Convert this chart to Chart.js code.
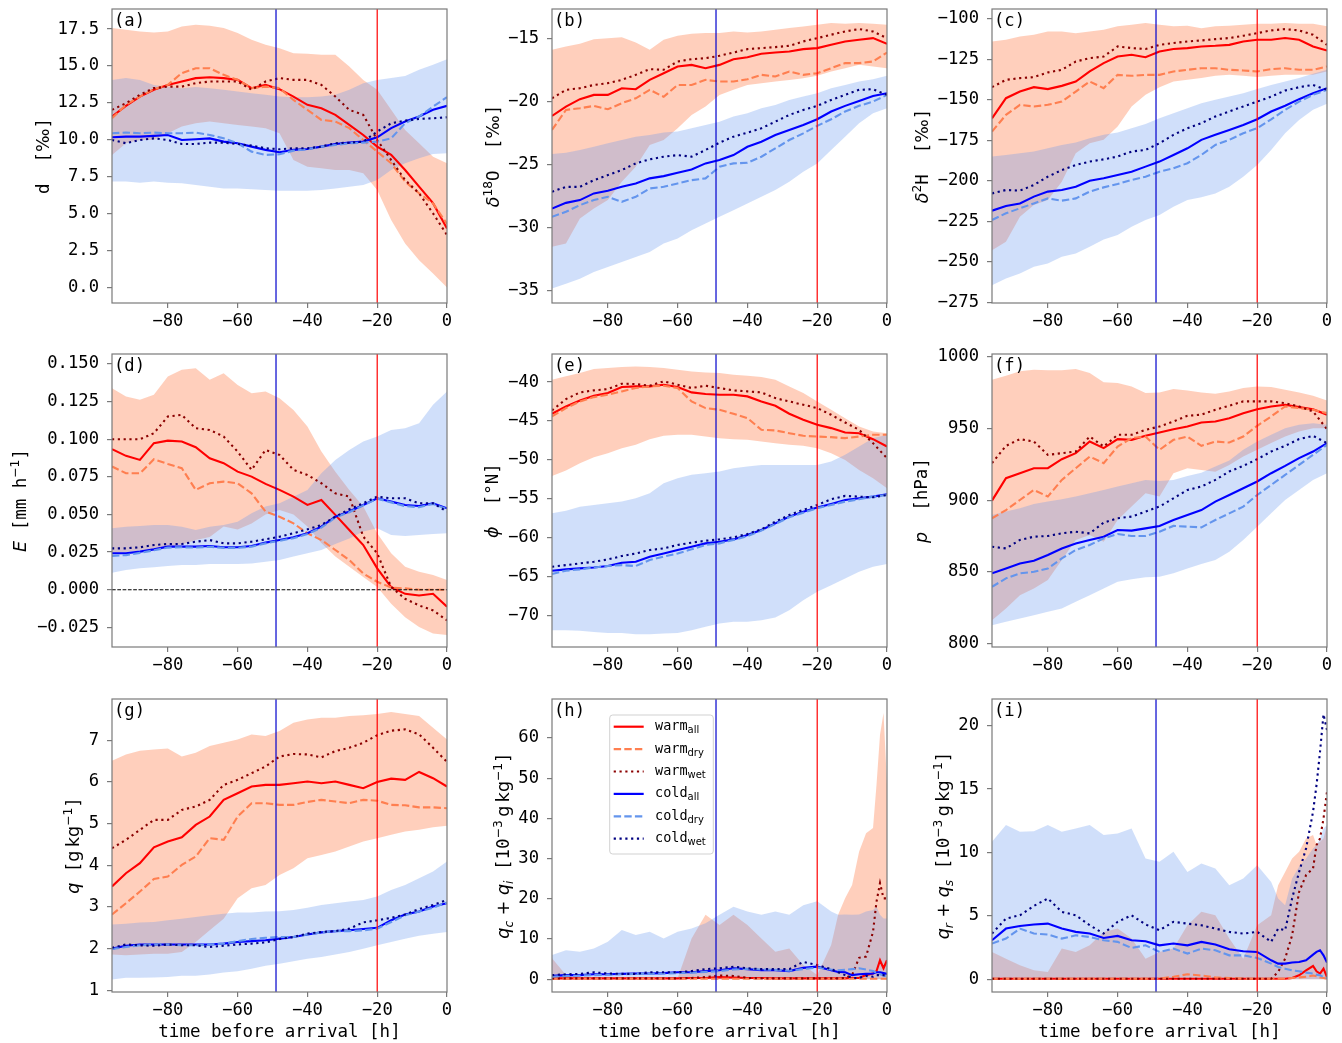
<!DOCTYPE html>
<html><head><meta charset="utf-8">
<script src="https://cdn.jsdelivr.net/npm/chart.js@4.4.1/dist/chart.umd.min.js"></script>
<style>
html,body{margin:0;padding:0;background:#fff}
body{width:1342px;height:1043px;overflow:hidden;position:relative}
.pn{position:absolute}
</style>
</head><body>
<script>
// ---------------- time axes ----------------
const TIME = [-96,-92,-88,-84,-80,-76,-72,-68,-64,-60,-56,-52,-48,-44,-40,-36,-32,-28,-24,-20,-16,-12,-8,-4,0];
const TIME_HI = [-96,-92,-88,-84,-80,-76,-72,-68,-64,-60,-56,-52,-48,-44,-40,-36,-32,-28,-24,-20,-16,-14,-12,-10,-8,-6,-4,-3,-2,-1,0];
const T_COLD_EVENT = -49;
const T_WARM_EVENT = -20;
const X_TICKS = ['−80','−60','−40','−20','0'];

// ---------------- (a) d-excess ----------------
const A_YTICKS = ['0.0','2.5','5.0','7.5','10.0','12.5','15.0','17.5'];
const a_warm_all = [11.58,12.3,12.93,13.39,13.72,13.95,14.18,14.24,14.18,14.06,13.5,13.72,13.43,12.93,12.37,12.14,11.69,11.01,10.33,9.54,8.98,7.96,6.83,5.71,4.0];
const a_warm_dry = [11.46,12.37,12.93,13.43,13.72,14.52,14.85,14.85,14.4,14.06,13.5,13.6,13.5,12.7,12.03,11.35,11.24,10.79,9.99,9.2,8.41,7.17,6.38,5.7,4.3];
const a_warm_wet = [12.03,12.48,13.05,13.5,13.6,13.6,13.84,13.95,13.95,13.95,13.39,13.95,14.18,14.06,14.06,13.72,12.93,12.03,11.69,9.99,8.63,7.28,6.38,5.02,3.55];
const a_cold_all = [10.17,10.22,10.22,10.27,10.33,9.99,10.04,10.1,9.88,9.77,9.54,9.32,9.16,9.32,9.38,9.54,9.72,9.81,9.88,10.17,10.79,11.24,11.58,12.03,12.3];
const a_cold_dry = [10.45,10.49,10.45,10.49,10.45,10.45,10.49,10.33,10.1,9.77,9.2,8.98,9.02,9.27,9.36,9.54,9.65,9.77,9.81,9.88,10.1,11.12,11.58,12.25,12.89];
const a_cold_wet = [9.99,9.77,9.99,10.1,9.99,9.72,9.72,9.81,9.81,9.72,9.61,9.43,9.36,9.43,9.43,9.54,9.77,9.81,9.88,10.56,11.12,11.3,11.42,11.46,11.53];
const a_warm_hi = [17.57,17.45,17.34,17.27,17.34,17.68,17.79,17.73,17.57,17.23,16.78,16.44,16.21,15.87,15.83,15.76,15.76,14.97,14.06,13.39,12.03,10.67,9.77,8.86,8.41];
const a_warm_lo = [8.98,9.77,9.99,9.99,10.45,10.9,11.12,11.24,11.12,11.01,10.9,10.79,10.45,8.63,8.18,8.07,7.96,7.96,7.73,6.6,4.57,2.98,1.85,0.95,0.0];
const a_cold_hi = [14.06,14.18,14.06,13.72,13.6,13.5,13.57,13.5,13.39,13.27,13.16,13.05,12.93,12.89,12.89,12.93,13.05,13.39,13.84,14.06,14.18,14.33,14.74,15.08,15.46];
const a_cold_lo = [7.17,7.17,7.1,7.17,7.1,7.06,6.94,6.83,6.71,6.71,6.65,6.6,6.56,6.56,6.56,6.6,6.71,6.83,6.94,7.28,7.96,8.41,8.75,9.04,9.09];

// ---------------- (b) delta 18O ----------------
const B_YTICKS = ['−35','−30','−25','−20','−15'];
const b_warm_all = [-21.12,-20.38,-19.79,-19.45,-19.45,-18.92,-19.0,-18.26,-17.73,-17.2,-17.07,-17.33,-17.07,-16.62,-16.46,-16.19,-16.09,-16.01,-15.82,-15.74,-15.48,-15.21,-15.08,-14.95,-15.4];
const b_warm_dry = [-22.23,-20.64,-20.51,-20.32,-20.59,-20.11,-19.72,-19.05,-19.6,-18.66,-18.66,-18.26,-18.39,-18.39,-18.21,-17.86,-17.99,-17.6,-17.86,-17.73,-17.33,-16.93,-16.93,-16.8,-16.09];
const b_warm_wet = [-19.72,-19.05,-18.92,-18.66,-18.52,-18.26,-17.86,-17.41,-17.46,-16.8,-16.62,-16.54,-16.35,-16.09,-15.82,-15.74,-15.66,-15.56,-15.21,-14.95,-14.68,-14.42,-14.23,-14.42,-14.95];
const b_cold_all = [-28.46,-28.01,-27.79,-27.26,-27.05,-26.74,-26.47,-26.07,-25.89,-25.62,-25.36,-24.88,-24.62,-24.22,-23.56,-23.16,-22.63,-22.23,-21.83,-21.38,-20.77,-20.32,-19.93,-19.53,-19.32];
const b_cold_dry = [-29.12,-28.72,-28.19,-27.79,-27.53,-27.93,-27.53,-26.87,-26.74,-26.47,-26.21,-26.07,-25.15,-24.88,-24.83,-24.35,-23.69,-23.03,-22.5,-21.91,-21.38,-20.77,-20.32,-19.98,-19.45];
const b_cold_wet = [-27.13,-26.74,-26.74,-26.21,-25.81,-25.41,-24.88,-24.56,-24.35,-24.22,-24.35,-23.82,-23.24,-22.76,-22.44,-22.1,-21.57,-21.04,-20.64,-20.32,-19.85,-19.45,-19.05,-19.0,-19.45];
const b_warm_hi = [-15.87,-15.61,-15.4,-15.03,-14.95,-14.87,-15.29,-15.87,-15.08,-14.76,-14.6,-14.55,-14.55,-14.42,-14.5,-14.42,-14.28,-14.15,-14.02,-13.89,-13.75,-13.81,-13.75,-13.81,-13.89];
const b_warm_lo = [-31.5,-31.24,-29.25,-28.46,-27.79,-26.34,-25.15,-23.42,-23.03,-22.1,-21.04,-20.38,-19.45,-19.05,-18.66,-18.52,-18.39,-18.26,-18.13,-17.94,-17.6,-17.33,-17.07,-17.2,-17.33];
const b_cold_hi = [-24.14,-24.03,-23.82,-23.56,-23.29,-23.03,-22.76,-22.63,-22.44,-22.36,-22.1,-21.83,-21.57,-21.17,-20.91,-20.51,-20.25,-19.85,-19.58,-19.32,-18.92,-18.66,-18.39,-18.21,-17.94];
const b_cold_lo = [-34.81,-34.42,-34.02,-33.49,-33.09,-32.7,-32.3,-31.9,-31.24,-30.84,-30.18,-29.65,-29.12,-28.59,-28.06,-27.53,-27.0,-26.34,-25.54,-24.88,-23.82,-22.76,-21.7,-20.91,-20.51];

// ---------------- (c) delta 2H ----------------
const C_YTICKS = ['−275','−250','−225','−200','−175','−150','−125','−100'];
const c_warm_all = [-161.4,-149.0,-144.9,-142.2,-143.4,-141.4,-138.7,-132.5,-127.4,-123.3,-122.2,-123.7,-120.2,-118.7,-118.1,-117.1,-116.7,-116.1,-114.0,-113.0,-113.0,-111.9,-113.0,-117.1,-119.6];
const c_warm_dry = [-169.6,-159.3,-153.1,-154.1,-153.1,-151.1,-144.9,-138.7,-142.8,-134.6,-135.2,-134.6,-134.6,-132.5,-131.5,-130.5,-130.5,-131.5,-131.9,-132.5,-131.1,-130.5,-131.5,-131.5,-129.4];
const c_warm_wet = [-142.2,-137.7,-136.6,-136.0,-133.1,-131.5,-126.4,-124.3,-123.3,-117.1,-118.1,-118.7,-116.1,-115.0,-114.0,-113.4,-112.6,-111.9,-110.5,-108.9,-107.2,-106.4,-107.2,-109.9,-116.1];
const c_cold_all = [-218.4,-215.5,-213.9,-209.7,-206.6,-205.6,-203.6,-199.9,-198.4,-196.4,-194.3,-191.2,-188.1,-184.0,-179.9,-174.7,-171.6,-168.6,-165.5,-162.0,-157.2,-153.7,-149.6,-145.9,-142.8];
const c_cold_dry = [-224.1,-220.0,-216.9,-213.9,-210.8,-212.2,-210.8,-206.6,-204.0,-201.9,-199.4,-197.4,-194.3,-192.2,-189.1,-184.0,-177.8,-174.7,-170.6,-167.5,-162.0,-156.2,-151.1,-146.9,-143.9];
const c_cold_wet = [-207.7,-205.6,-206.0,-202.5,-197.4,-193.3,-190.2,-188.1,-186.7,-185.0,-181.9,-180.9,-176.8,-171.6,-167.5,-164.4,-160.3,-157.2,-154.1,-151.1,-148.0,-144.3,-142.2,-140.8,-143.9];
const c_warm_hi = [-114.0,-113.0,-110.9,-109.9,-107.8,-107.8,-108.9,-107.8,-106.8,-104.7,-103.7,-102.7,-103.7,-104.7,-104.3,-105.8,-104.7,-104.3,-103.7,-103.1,-103.1,-102.7,-103.1,-103.1,-104.7];
const c_warm_lo = [-242.7,-237.5,-222.1,-214.9,-211.8,-200.5,-183.0,-176.8,-174.7,-166.5,-154.1,-146.9,-142.2,-138.7,-137.7,-136.6,-135.2,-134.6,-135.2,-136.0,-135.2,-134.6,-134.6,-134.6,-132.5];
const c_cold_hi = [-185.0,-184.0,-183.0,-181.9,-179.9,-177.8,-176.4,-173.7,-171.6,-170.2,-167.5,-164.9,-161.4,-158.3,-155.2,-152.1,-150.0,-148.0,-145.9,-143.4,-140.8,-138.7,-136.6,-134.0,-131.5];
const c_cold_lo = [-264.3,-260.2,-257.1,-253.0,-250.9,-246.8,-244.7,-240.6,-236.1,-233.4,-228.3,-224.1,-221.1,-215.9,-211.8,-210.1,-207.7,-203.6,-197.4,-190.2,-180.9,-170.6,-162.4,-156.2,-152.5];

// ---------------- (d) evaporation ----------------
const D_YTICKS = ['−0.025','0.000','0.025','0.050','0.075','0.100','0.125','0.150'];
const d_warm_all = [0.0933,0.0889,0.0862,0.0973,0.0990,0.0984,0.0946,0.0873,0.0840,0.0784,0.0751,0.0703,0.0663,0.0618,0.0563,0.0596,0.0497,0.0397,0.0297,0.0142,0.0018,-0.0027,-0.0038,-0.0027,-0.0113];
const d_warm_dry = [0.0818,0.0773,0.0773,0.0866,0.0835,0.0807,0.0663,0.0707,0.0718,0.0707,0.0640,0.0519,0.0485,0.0441,0.0375,0.0330,0.0264,0.0197,0.0108,0.0053,0.0015,0.0009,0.0,0.0,0.0];
const d_warm_wet = [0.0999,0.0999,0.0999,0.1039,0.1150,0.1161,0.1072,0.1061,0.1017,0.0917,0.0796,0.0928,0.0895,0.0796,0.0762,0.0707,0.0640,0.0618,0.0353,0.0242,0.0018,-0.0060,-0.0104,-0.0137,-0.0203];
const d_cold_all = [0.0242,0.0242,0.0253,0.0268,0.0286,0.0286,0.0286,0.0290,0.0282,0.0282,0.0290,0.0313,0.0330,0.0348,0.0375,0.0419,0.0485,0.0519,0.0563,0.0607,0.0585,0.0563,0.0556,0.0574,0.0541];
const d_cold_dry = [0.0225,0.0230,0.0245,0.0262,0.0280,0.0282,0.0280,0.0285,0.0278,0.0278,0.0286,0.0308,0.0325,0.0342,0.0370,0.0412,0.0480,0.0515,0.0560,0.0605,0.0580,0.0555,0.0548,0.0570,0.0535];
const d_cold_wet = [0.0275,0.0275,0.0282,0.0297,0.0304,0.0304,0.0319,0.0330,0.0308,0.0308,0.0319,0.0335,0.0352,0.0375,0.0401,0.0430,0.0485,0.0534,0.0574,0.0618,0.0607,0.0607,0.0574,0.0574,0.0519];
const d_warm_hi = [0.1338,0.1283,0.1261,0.1294,0.1416,0.1460,0.1471,0.1394,0.1438,0.1360,0.1305,0.1316,0.1272,0.1194,0.1084,0.0917,0.0784,0.0663,0.0552,0.0375,0.0242,0.0153,0.0120,0.0098,0.0064];
const d_warm_lo = [0.024,0.025,0.026,0.027,0.028,0.030,0.033,0.035,0.042,0.040,0.044,0.050,0.053,0.050,0.042,0.031,0.022,0.0153,0.0084,0.0018,-0.0093,-0.0182,-0.0248,-0.0290,-0.0301];
const d_cold_hi = [0.0408,0.0419,0.0423,0.0430,0.0430,0.0419,0.0397,0.0419,0.0430,0.0452,0.0508,0.0552,0.0574,0.0618,0.0663,0.0773,0.0862,0.0928,0.0984,0.1017,0.1061,0.1072,0.1106,0.1228,0.1316];
const d_cold_lo = [0.0113,0.0131,0.0142,0.0149,0.0158,0.0164,0.0164,0.0171,0.0171,0.0171,0.0175,0.0186,0.0197,0.0220,0.0242,0.0264,0.0304,0.0341,0.0386,0.0408,0.0363,0.0357,0.0363,0.0370,0.0375];

// ---------------- (e) latitude ----------------
const E_YTICKS = ['−70','−65','−60','−55','−50','−45','−40'];
const e_warm_all = [-44.07,-43.13,-42.36,-41.76,-41.41,-40.64,-40.56,-40.56,-40.34,-40.64,-41.33,-41.54,-41.63,-41.63,-41.84,-42.49,-43.04,-44.07,-44.84,-45.49,-45.91,-46.47,-46.56,-47.33,-48.27];
const e_warm_dry = [-44.41,-43.34,-42.49,-41.93,-41.63,-41.2,-40.77,-40.56,-40.47,-40.77,-42.49,-43.34,-43.56,-44.07,-44.63,-46.13,-46.21,-46.56,-46.9,-46.99,-47.07,-47.2,-46.99,-46.77,-46.77];
const e_warm_wet = [-43.64,-42.19,-41.33,-41.07,-40.9,-40.21,-40.26,-40.47,-39.91,-40.34,-40.77,-40.47,-40.77,-41.07,-41.2,-41.33,-42.06,-42.49,-42.91,-43.34,-44.2,-45.19,-46.13,-47.84,-49.77];
const e_cold_all = [-64.21,-64.04,-63.91,-63.79,-63.61,-63.19,-63.06,-62.41,-61.99,-61.56,-61.13,-60.7,-60.49,-60.19,-59.63,-58.99,-58.13,-57.27,-56.63,-56.11,-55.64,-55.13,-54.91,-54.7,-54.4];
const e_cold_dry = [-64.64,-64.21,-64.04,-63.79,-63.61,-63.49,-63.61,-62.84,-62.41,-61.99,-61.47,-60.91,-60.7,-60.27,-59.76,-59.07,-58.21,-57.36,-56.76,-56.2,-55.77,-55.34,-55.04,-54.7,-54.49];
const e_cold_wet = [-63.7,-63.49,-63.27,-63.06,-62.76,-62.33,-61.99,-61.56,-61.34,-60.91,-60.61,-60.36,-60.19,-59.93,-59.5,-58.9,-57.91,-57.06,-56.41,-55.77,-55.04,-54.61,-54.7,-54.79,-54.49];
const e_warm_hi = [-39.7,-39.27,-38.84,-38.33,-38.2,-38.07,-37.99,-38.07,-38.2,-38.41,-38.63,-38.76,-38.84,-39.06,-39.19,-39.36,-39.7,-40.56,-41.41,-42.49,-43.56,-44.63,-45.7,-46.34,-46.56];
const e_warm_lo = [-52.04,-51.36,-50.41,-49.64,-49.13,-48.49,-48.06,-47.33,-46.9,-46.77,-46.77,-46.99,-47.2,-47.33,-47.41,-47.63,-47.84,-48.06,-48.19,-48.49,-49.13,-49.99,-51.27,-52.34,-53.63];
const e_cold_hi = [-56.84,-56.5,-55.99,-55.77,-55.56,-55.34,-54.91,-54.27,-52.99,-52.34,-51.91,-51.7,-51.49,-51.06,-50.84,-50.63,-50.63,-50.63,-50.63,-50.63,-50.2,-49.34,-48.27,-47.2,-46.77];
const e_cold_lo = [-71.84,-71.84,-71.93,-72.06,-72.19,-72.19,-72.36,-72.36,-72.27,-72.19,-71.84,-71.41,-70.99,-70.77,-70.77,-70.56,-70.21,-69.27,-67.99,-66.91,-66.06,-65.2,-64.34,-63.7,-63.36];

// ---------------- (f) pressure ----------------
const F_YTICKS = ['800','850','900','950','1000'];
const f_warm_all = [899.8,915.4,918.9,922.4,922.4,928.7,932.9,941.0,936.4,942.7,942.2,945.0,947.3,949.6,951.5,954.3,955.0,957.3,960.8,963.6,965.5,966.7,965.0,963.6,959.7];
const f_warm_dry = [887.4,893.2,900.2,907.2,902.6,914.2,922.4,930.5,925.9,937.5,943.4,944.5,935.2,942.2,944.5,938.0,941.0,940.3,944.5,952.0,958.5,965.5,964.3,963.2,960.8];
const f_warm_wet = [925.9,938.0,942.7,941.0,931.7,932.9,934.0,944.5,937.5,945.7,945.7,949.2,951.5,955.0,959.0,959.7,963.2,966.0,969.0,969.0,969.0,967.8,965.5,962.0,949.6];
const f_cold_all = [849.0,852.4,855.9,857.8,861.8,866.4,869.9,872.3,874.6,879.3,878.8,880.4,882.1,886.2,889.7,893.2,899.1,903.7,908.4,913.1,918.9,924.0,929.4,934.0,939.9];
const f_cold_dry = [839.6,845.5,849.0,850.1,852.4,859.4,865.3,868.8,873.4,876.5,875.1,875.1,878.1,882.1,881.6,881.1,886.2,890.9,895.6,903.7,910.7,917.7,924.7,931.7,938.7];
const f_cold_wet = [867.6,866.4,872.3,874.6,875.1,876.9,878.1,876.9,884.4,887.5,888.6,892.1,895.6,901.4,907.2,909.6,914.2,920.1,924.0,928.7,934.0,938.0,942.7,945.0,939.9];
const f_warm_hi = [984.1,986.9,990.0,991.1,990.7,990.7,991.6,988.8,982.3,981.8,979.5,974.8,975.3,977.6,976.7,975.3,974.4,976.0,978.3,979.5,979.0,977.2,975.3,973.0,969.7];
const f_warm_lo = [816.3,824.5,833.8,838.5,844.3,858.3,872.3,875.8,871.1,886.2,895.6,904.9,902.6,918.9,922.4,921.2,920.0,924.7,930.5,935.2,939.9,944.5,948.0,950.3,950.3];
const f_cold_hi = [889.7,892.1,894.4,897.4,899.1,900.7,902.6,904.9,907.2,909.6,911.9,914.2,913.5,914.2,917.0,919.3,923.5,927.7,935.2,941.0,945.7,950.3,952.7,953.8,952.7];
const f_cold_lo = [812.8,815.2,817.5,819.8,822.2,824.5,829.1,833.8,838.5,843.1,844.8,846.2,846.6,849.0,852.4,855.5,858.3,864.1,872.3,881.6,890.9,900.2,907.2,914.2,918.9];

// ---------------- (g) specific humidity ----------------
const G_YTICKS = ['1','2','3','4','5','6','7'];
const g_warm_all = [3.49,3.81,4.05,4.43,4.57,4.67,4.97,5.17,5.57,5.73,5.89,5.93,5.93,5.97,6.01,5.97,6.01,5.93,5.85,6.0,6.08,6.05,6.24,6.09,5.89];
const g_warm_dry = [2.82,3.09,3.37,3.67,3.73,4.01,4.21,4.65,4.61,5.17,5.49,5.49,5.45,5.45,5.52,5.57,5.53,5.49,5.57,5.55,5.45,5.44,5.39,5.39,5.37];
const g_warm_wet = [4.41,4.61,4.85,5.09,5.09,5.33,5.41,5.57,5.93,6.05,6.21,6.37,6.61,6.67,6.66,6.59,6.74,6.82,6.94,7.12,7.23,7.26,7.14,6.82,6.48];
const g_cold_all = [2.0,2.07,2.1,2.1,2.1,2.1,2.1,2.1,2.12,2.16,2.18,2.2,2.24,2.28,2.34,2.39,2.42,2.44,2.47,2.5,2.68,2.82,2.89,3.01,3.09];
const g_cold_dry = [1.99,2.04,2.08,2.1,2.1,2.08,2.08,2.1,2.12,2.18,2.23,2.26,2.28,2.28,2.34,2.39,2.42,2.42,2.44,2.48,2.64,2.8,2.89,2.98,3.11];
const g_cold_wet = [2.02,2.1,2.08,2.07,2.1,2.08,2.08,2.04,2.07,2.1,2.12,2.15,2.23,2.28,2.36,2.4,2.42,2.48,2.63,2.68,2.74,2.82,2.95,3.05,3.17];
const g_warm_hi = [6.51,6.66,6.75,6.78,6.8,6.61,6.7,6.86,6.94,7.02,7.14,7.1,7.22,7.42,7.5,7.54,7.54,7.58,7.6,7.63,7.68,7.63,7.58,7.3,7.02];
const g_warm_lo = [1.86,1.84,1.86,1.88,1.88,1.92,2.16,2.44,2.72,3.21,3.45,3.53,3.77,3.93,4.17,4.25,4.33,4.45,4.57,4.65,4.73,4.81,4.85,4.91,4.95];
const g_cold_hi = [2.58,2.6,2.63,2.64,2.68,2.72,2.76,2.8,2.84,2.87,2.87,2.89,2.9,2.93,2.98,3.05,3.09,3.13,3.17,3.25,3.41,3.53,3.69,3.85,4.09];
const g_cold_lo = [1.26,1.3,1.3,1.31,1.32,1.35,1.35,1.38,1.43,1.46,1.52,1.59,1.64,1.7,1.76,1.8,1.86,1.92,2.0,2.08,2.16,2.24,2.31,2.36,2.4];

// ---------------- (h) cloud liquid + ice (TIME_HI) ----------------
const H_YTICKS = ['0','10','20','30','40','50','60'];
const h_warm_all = [0.2,0.2,0.2,0.2,0.2,0.2,0.2,0.2,0.2,0.2,0.3,0.3,0.5,0.4,0.3,0.3,0.2,0.2,0.2,0.2,0.2,0.2,0.2,0.3,0.3,1.0,1.4,2.0,4.7,2.7,4.7];
const h_warm_dry = [0.1,0.1,0.1,0.1,0.1,0.1,0.1,0.1,0.1,0.1,0.1,0.1,0.1,0.1,0.1,0.1,0.1,0.1,0.1,0.1,0.1,0.1,0.1,0.1,0.1,0.1,0.1,0.1,0.1,0.1,0.1];
const h_warm_wet = [0.2,0.2,0.2,0.2,0.2,0.2,0.2,0.2,0.2,0.2,0.3,0.5,0.9,0.8,0.3,0.2,0.2,0.2,0.2,0.2,0.2,0.2,0.3,1.0,5.3,5.6,11.8,19.3,23.9,20.1,20.1];
const h_cold_all = [0.8,1.0,1.0,1.2,1.2,1.3,1.4,1.4,1.5,1.7,1.7,2.0,2.2,2.7,2.5,2.2,2.2,2.0,2.8,3.1,2.2,1.8,1.7,1.0,1.2,1.3,1.4,1.7,1.7,1.5,1.3];
const h_cold_dry = [0.6,0.8,0.9,1.0,1.1,1.2,1.3,1.3,1.4,1.5,1.6,1.8,2.0,2.4,2.6,2.4,2.3,2.1,2.5,2.9,2.4,2.2,2.3,2.5,2.7,2.4,2.0,1.6,1.2,0.9,0.6];
const h_cold_wet = [1.0,1.2,1.3,1.7,1.4,1.3,1.3,1.7,1.7,1.7,2.0,2.5,2.7,3.1,2.7,2.5,2.5,2.5,4.3,3.5,2.5,1.7,1.0,0.3,0.3,0.8,0.6,1.0,1.0,1.0,0.8];
const h_warm_hi = [5.2,1.0,0.2,0.2,0.2,0.2,0.2,0.2,0.2,0.2,10.1,16.0,13.5,16.0,13.5,10.1,6.8,7.6,3.5,1.0,8.5,16.0,20.1,23.4,31.7,36.3,37.6,48.4,60.8,66.2,48.4];
const h_warm_lo = [0,0,0,0,0,0,0,0,0,0,0,0,0,0,0,0,0,0,0,0,0,0,0,0,0,0,0,0,0,0,0];
const h_cold_hi = [6.0,7.2,6.8,7.6,9.3,12.2,11.0,11.8,10.1,11.8,12.6,13.9,16.0,18.0,16.8,16.0,16.8,16.0,18.4,19.4,16.8,16.0,16.1,16.0,16.1,16.8,17.2,18.0,16.0,15.1,15.1];
const h_cold_lo = [0,0,0,0,0,0,0,0,0,0,0,0,0,0,0,0,0,0,0,0,0,0,0,0,0,0,0,0,0,0,0];

// ---------------- (i) rain + snow (TIME_HI) ----------------
const I_YTICKS = ['0','5','10','15','20'];
const i_warm_all = [0.05,0.05,0.05,0.05,0.05,0.05,0.05,0.05,0.05,0.05,0.05,0.05,0.05,0.05,0.05,0.05,0.05,0.05,0.05,0.05,0.05,0.05,0.05,0.1,0.32,0.71,1.05,0.63,0.45,0.84,0.18];
const i_warm_dry = [0.05,0.05,0.05,0.05,0.05,0.05,0.05,0.05,0.05,0.05,0.05,0.05,0.05,0.2,0.4,0.3,0.15,0.1,0.05,0.05,0.05,0.05,0.05,0.1,0.15,0.2,0.3,0.25,0.15,0.1,0.05];
const i_warm_wet = [0.05,0.05,0.05,0.05,0.05,0.05,0.05,0.05,0.05,0.05,0.05,0.05,0.05,0.05,0.05,0.05,0.05,0.05,0.05,0.05,0.05,0.58,1.63,3.47,6.89,8.21,8.74,10.58,11.1,12.68,14.79];
const i_cold_all = [3.08,4.0,4.21,4.32,4.39,4.0,3.74,3.61,3.26,3.42,3.08,3.0,2.68,2.82,2.68,2.95,2.74,2.37,2.21,2.16,1.5,1.24,1.24,1.32,1.37,1.5,1.95,2.16,2.29,1.89,1.32];
const i_cold_dry = [2.82,3.21,4.0,3.61,3.53,3.21,3.47,3.34,3.08,2.95,2.47,2.68,2.16,2.42,2.03,2.42,2.29,1.89,1.89,1.68,1.24,0.97,0.84,0.71,0.63,0.53,0.45,0.37,0.32,0.18,0.1];
const i_cold_wet = [3.61,4.79,5.05,5.79,6.37,5.32,5.05,4.26,3.61,4.53,5.05,4.32,3.87,4.53,4.39,4.26,4.0,3.74,3.61,3.74,2.95,4.0,3.87,6.37,8.47,10.32,13.21,15.32,17.95,20.89,19.66];
const i_warm_hi = [2.16,1.63,1.1,0.71,0.58,2.42,2.16,2.68,3.74,4.0,3.21,1.63,2.16,2.42,4.26,5.32,5.05,3.21,1.63,4.26,5.05,7.42,8.47,9.53,10.05,11.1,11.37,10.58,10.84,11.1,12.16];
const i_warm_lo = [0,0,0,0,0,0,0,0,0,0,0,0,0,0,0,0,0,0,0,0,0,0,0,0,0,0,0,0,0,0,0];
const i_cold_hi = [10.84,12.16,11.63,11.68,12.16,11.63,11.9,12.16,11.37,11.5,11.9,9.53,9.26,10.05,8.47,9.13,8.74,7.42,7.95,9.0,7.68,6.37,5.84,7.95,8.87,9.53,10.32,10.58,11.1,11.9,12.16];
const i_cold_lo = [0,0,0,0,0,0,0,0,0,0,0,0,0,0,0,0,0,0,0,0,0,0,0,0,0,0,0,0,0,0,0];

// ---------------- styling ----------------
const MONO = "'DejaVu Sans Mono', monospace";
const SANS = "'DejaVu Sans', sans-serif";
const SPINE = '#7a7a7a';
const STY = {
  warm_all: {c: '#ff0000', d: []},
  warm_dry: {c: '#ff7f50', d: [7.4, 3.2]},
  warm_wet: {c: '#8b0000', d: [2.2, 3.6]},
  cold_all: {c: '#0000ff', d: []},
  cold_dry: {c: '#6495ed', d: [7.4, 3.2]},
  cold_wet: {c: '#000080', d: [2.2, 3.6]}
};
const WARM_FILL = 'rgba(255,160,122,0.5)';
const COLD_FILL = 'rgba(100,149,237,0.3)';
const LEGEND = [
  {k: 'warm_all', m: 'warm', s: 'all'}, {k: 'warm_dry', m: 'warm', s: 'dry'}, {k: 'warm_wet', m: 'warm', s: 'wet'},
  {k: 'cold_all', m: 'cold', s: 'all'}, {k: 'cold_dry', m: 'cold', s: 'dry'}, {k: 'cold_wet', m: 'cold', s: 'wet'}
];

const COL_L = [112, 552, 992];
const ROW_T = [9, 354, 699];
const ROW_H = [294, 293, 293];
const BOX_W = 335, AXIS_W = 112, PAD_T = 12, PAD_R = 20;

const SUP = (t) => ({t, f: 'sans', s: 0.7, dy: 0.42});
const SUB = (t) => ({t, f: 'sans', i: 1, s: 0.7, dy: -0.22});
const PERMIL = [{t: '  ['}, {t: '‰', f: 'sans'}, {t: ']'}];
const PANELS = [
  {id: 'a', col: 0, row: 0, ylim: [-1.05, 18.86], yt: A_YTICKS, t: TIME, ylx: 43,
   yl: [{t: 'd'}].concat(PERMIL),
   s: {warm_all: a_warm_all, warm_dry: a_warm_dry, warm_wet: a_warm_wet, cold_all: a_cold_all, cold_dry: a_cold_dry, cold_wet: a_cold_wet, warm_hi: a_warm_hi, warm_lo: a_warm_lo, cold_hi: a_cold_hi, cold_lo: a_cold_lo}},
  {id: 'b', col: 1, row: 0, ylim: [-35.95, -12.64], yt: B_YTICKS, t: TIME, ylx: 53,
   yl: [{t: 'δ', f: 'sans', i: 1}, SUP('18'), {t: 'O'}].concat(PERMIL),
   s: {warm_all: b_warm_all, warm_dry: b_warm_dry, warm_wet: b_warm_wet, cold_all: b_cold_all, cold_dry: b_cold_dry, cold_wet: b_cold_wet, warm_hi: b_warm_hi, warm_lo: b_warm_lo, cold_hi: b_cold_hi, cold_lo: b_cold_lo}},
  {id: 'c', col: 2, row: 0, ylim: [-275.3, -94.0], yt: C_YTICKS, t: TIME, ylx: 42,
   yl: [{t: 'δ', f: 'sans', i: 1}, SUP('2'), {t: 'H'}].concat(PERMIL),
   s: {warm_all: c_warm_all, warm_dry: c_warm_dry, warm_wet: c_warm_wet, cold_all: c_cold_all, cold_dry: c_cold_dry, cold_wet: c_cold_wet, warm_hi: c_warm_hi, warm_lo: c_warm_lo, cold_hi: c_cold_hi, cold_lo: c_cold_lo}},
  {id: 'd', col: 0, row: 1, ylim: [-0.038, 0.1565], yt: D_YTICKS, t: TIME, ylx: 20, zero: true,
   yl: [{t: 'E', f: 'sans', i: 1}, {t: ' [mm h'}, SUP('−1'), {t: ']'}],
   s: {warm_all: d_warm_all, warm_dry: d_warm_dry, warm_wet: d_warm_wet, cold_all: d_cold_all, cold_dry: d_cold_dry, cold_wet: d_cold_wet, warm_hi: d_warm_hi, warm_lo: d_warm_lo, cold_hi: d_cold_hi, cold_lo: d_cold_lo}},
  {id: 'e', col: 1, row: 1, ylim: [-74.0, -36.4], yt: E_YTICKS, t: TIME, ylx: 52,
   yl: [{t: 'ϕ', f: 'sans', i: 1}, {t: '  [°N]'}],
   s: {warm_all: e_warm_all, warm_dry: e_warm_dry, warm_wet: e_warm_wet, cold_all: e_cold_all, cold_dry: e_cold_dry, cold_wet: e_cold_wet, warm_hi: e_warm_hi, warm_lo: e_warm_lo, cold_hi: e_cold_hi, cold_lo: e_cold_lo}},
  {id: 'f', col: 2, row: 1, ylim: [797.6, 1002.1], yt: F_YTICKS, t: TIME, ylx: 41,
   yl: [{t: 'p', f: 'sans', i: 1}, {t: '  [hPa]'}],
   s: {warm_all: f_warm_all, warm_dry: f_warm_dry, warm_wet: f_warm_wet, cold_all: f_cold_all, cold_dry: f_cold_dry, cold_wet: f_cold_wet, warm_hi: f_warm_hi, warm_lo: f_warm_lo, cold_hi: f_cold_hi, cold_lo: f_cold_lo}},
  {id: 'g', col: 0, row: 2, ylim: [0.96, 7.99], yt: G_YTICKS, t: TIME, ylx: 73,
   yl: [{t: 'q', f: 'sans', i: 1}, {t: ' ['}, {t: 'g\u2009kg', f: 'sans'}, SUP('−1'), {t: ']'}],
   s: {warm_all: g_warm_all, warm_dry: g_warm_dry, warm_wet: g_warm_wet, cold_all: g_cold_all, cold_dry: g_cold_dry, cold_wet: g_cold_wet, warm_hi: g_warm_hi, warm_lo: g_warm_lo, cold_hi: g_cold_hi, cold_lo: g_cold_lo}},
  {id: 'h', col: 1, row: 2, ylim: [-3.2, 69.7], yt: H_YTICKS, t: TIME_HI, ylx: 63, legend: true,
   yl: [{t: 'q', f: 'sans', i: 1}, SUB('c'), {t: ' + ', f: 'sans'}, {t: 'q', f: 'sans', i: 1}, SUB('i'), {t: ' [10'}, SUP('−3'), {t: '\u2009g\u2009kg', f: 'sans'}, SUP('−1'), {t: ']'}],
   s: {warm_all: h_warm_all, warm_dry: h_warm_dry, warm_wet: h_warm_wet, cold_all: h_cold_all, cold_dry: h_cold_dry, cold_wet: h_cold_wet, warm_hi: h_warm_hi, warm_lo: h_warm_lo, cold_hi: h_cold_hi, cold_lo: h_cold_lo}},
  {id: 'i', col: 2, row: 2, ylim: [-1.0, 22.1], yt: I_YTICKS, t: TIME_HI, ylx: 63,
   yl: [{t: 'q', f: 'sans', i: 1}, SUB('r'), {t: ' + ', f: 'sans'}, {t: 'q', f: 'sans', i: 1}, SUB('s'), {t: ' [10'}, SUP('−3'), {t: '\u2009g\u2009kg', f: 'sans'}, SUP('−1'), {t: ']'}],
   s: {warm_all: i_warm_all, warm_dry: i_warm_dry, warm_wet: i_warm_wet, cold_all: i_cold_all, cold_dry: i_cold_dry, cold_wet: i_cold_wet, warm_hi: i_warm_hi, warm_lo: i_warm_lo, cold_hi: i_cold_hi, cold_lo: i_cold_lo}}
];

const parseTick = (s) => Number(s.replace('−', '-'));
const fontStr = (seg, size) => (seg.i ? 'italic ' : '') + size + 'px ' + (seg.f === 'sans' ? SANS : MONO);

function drawRich(ctx, segs, x, y, size, rotate) {
  ctx.save();
  ctx.translate(x, y);
  if (rotate) ctx.rotate(-Math.PI / 2);
  ctx.textAlign = 'left';
  ctx.textBaseline = 'alphabetic';
  ctx.fillStyle = '#000';
  let total = 0;
  const widths = segs.map(sg => { ctx.font = fontStr(sg, size * (sg.s || 1)); const w = ctx.measureText(sg.t).width; total += w; return w; });
  let cx = -total / 2;
  const base = size * 0.36;
  segs.forEach((sg, k) => {
    ctx.font = fontStr(sg, size * (sg.s || 1));
    ctx.fillText(sg.t, cx, base - (sg.dy || 0) * size);
    cx += widths[k];
  });
  ctx.restore();
}

function drawLegend(ctx, a) {
  const x0 = a.left + 57.7, y0 = a.top + 16, w = 103.6, h = 139, r = 3;
  ctx.save();
  ctx.beginPath();
  ctx.moveTo(x0 + r, y0); ctx.lineTo(x0 + w - r, y0); ctx.quadraticCurveTo(x0 + w, y0, x0 + w, y0 + r);
  ctx.lineTo(x0 + w, y0 + h - r); ctx.quadraticCurveTo(x0 + w, y0 + h, x0 + w - r, y0 + h);
  ctx.lineTo(x0 + r, y0 + h); ctx.quadraticCurveTo(x0, y0 + h, x0, y0 + h - r);
  ctx.lineTo(x0, y0 + r); ctx.quadraticCurveTo(x0, y0, x0 + r, y0);
  ctx.closePath();
  ctx.fillStyle = 'rgba(255,255,255,0.8)'; ctx.fill();
  ctx.strokeStyle = 'rgba(204,204,204,0.9)'; ctx.lineWidth = 1; ctx.stroke();
  LEGEND.forEach((e, k) => {
    const y = a.top + 27.7 + k * 22.4;
    ctx.beginPath();
    ctx.setLineDash(STY[e.k].d); ctx.strokeStyle = STY[e.k].c; ctx.lineWidth = 2.2; ctx.lineCap = 'butt';
    ctx.moveTo(a.left + 61.7, y); ctx.lineTo(a.left + 91.7, y); ctx.stroke();
    ctx.setLineDash([]);
    ctx.fillStyle = '#000'; ctx.textAlign = 'left'; ctx.textBaseline = 'middle';
    ctx.font = '13.5px ' + MONO; ctx.fillText(e.m, a.left + 103, y);
    const mw = ctx.measureText(e.m).width;
    ctx.font = '10px ' + SANS; ctx.fillText(e.s, a.left + 103 + mw, y + 4);
  });
  ctx.restore();
}

function lineDs(xs, ys, color, width, dash) {
  return {data: xs.map((x, k) => ({x, y: ys[k]})), borderColor: color, borderWidth: width, borderDash: dash,
          borderCapStyle: 'butt', pointRadius: 0, fill: false, tension: 0};
}

function makePanel(p) {
  const L = COL_L[p.col], T = ROW_T[p.row], H = ROW_H[p.row];
  const xh = p.row === 2 ? 60 : 40;
  const cw = AXIS_W + BOX_W + PAD_R, ch = PAD_T + H + xh;
  const div = document.createElement('div');
  div.className = 'pn';
  div.style.left = (L - AXIS_W) + 'px'; div.style.top = (T - PAD_T) + 'px';
  div.style.width = cw + 'px'; div.style.height = ch + 'px';
  const cv = document.createElement('canvas');
  cv.width = cw; cv.height = ch; cv.style.width = cw + 'px'; cv.style.height = ch + 'px';
  div.appendChild(cv); document.body.appendChild(div);

  const xs = p.t;
  const ds = [];
  ds.push(lineDs([T_WARM_EVENT, T_WARM_EVENT], p.ylim, '#ff0000', 1.2, []));
  ds.push(lineDs([T_COLD_EVENT, T_COLD_EVENT], p.ylim, '#0000cc', 1.2, []));
  if (p.zero) ds.push(lineDs([-96, 0], [0, 0], '#000000', 1, [3.7, 1.6]));
  ['cold_wet', 'cold_dry', 'cold_all', 'warm_wet', 'warm_dry', 'warm_all'].forEach(k => {
    ds.push(lineDs(xs, p.s[k], STY[k].c, 2.1, STY[k].d));
  });
  const band = (hi, lo, col) => {
    const u = lineDs(xs, hi, 'rgba(0,0,0,0)', 0, []); u.fill = '+1'; u.backgroundColor = col;
    const l = lineDs(xs, lo, 'rgba(0,0,0,0)', 0, []);
    ds.push(u, l);
  };
  band(p.s.cold_hi, p.s.cold_lo, COLD_FILL);
  band(p.s.warm_hi, p.s.warm_lo, WARM_FILL);

  const yVals = p.yt.map(parseTick);
  const xVals = X_TICKS.map(parseTick);
  const deco = {
    id: 'deco' + p.id,
    afterDraw(chart) {
      const ctx = chart.ctx, a = chart.chartArea;
      ctx.save();
      ctx.strokeStyle = SPINE; ctx.lineWidth = 1.2; ctx.setLineDash([]);
      ctx.strokeRect(a.left, a.top, a.right - a.left, a.bottom - a.top);
      ctx.fillStyle = '#000'; ctx.font = '17.2px ' + MONO; ctx.textAlign = 'left'; ctx.textBaseline = 'middle';
      ctx.fillText('(' + p.id + ')', a.left + 2, a.top + 13);
      drawRich(ctx, p.yl, p.ylx, (a.top + a.bottom) / 2, 17.5, true);
      if (p.row === 2) {
        ctx.fillStyle = '#000'; ctx.font = '17.5px ' + MONO; ctx.textAlign = 'center'; ctx.textBaseline = 'middle';
        ctx.fillText('time before arrival [h]', (a.left + a.right) / 2, a.bottom + 40);
      }
      if (p.legend) drawLegend(ctx, a);
      ctx.restore();
    }
  };
  const tickFont = {family: MONO, size: 17.2};
  new Chart(cv, {
    type: 'line',
    data: {datasets: ds},
    options: {
      responsive: false, animation: false, devicePixelRatio: 1, events: [],
      layout: {padding: {top: PAD_T, right: PAD_R, bottom: 0, left: 0}},
      plugins: {legend: {display: false}, tooltip: {enabled: false}, title: {display: false}},
      scales: {
        x: {
          type: 'linear', min: -96, max: 0,
          afterBuildTicks: (ax) => { ax.ticks = xVals.map(v => ({value: v})); },
          afterFit: (sc) => { sc.height = xh; sc.paddingLeft = 0; sc.paddingRight = 0; },
          ticks: {font: tickFont, color: '#000', padding: 3, maxRotation: 0, autoSkip: false,
                  callback: (v, k) => X_TICKS[k]},
          grid: {drawOnChartArea: false, drawTicks: true, tickLength: 5, color: SPINE, lineWidth: 1.2},
          border: {display: false}
        },
        y: {
          type: 'linear', min: p.ylim[0], max: p.ylim[1],
          afterBuildTicks: (ax) => { ax.ticks = yVals.map(v => ({value: v})); },
          afterFit: (sc) => { sc.width = AXIS_W; sc.paddingTop = 0; sc.paddingBottom = 0; },
          ticks: {font: tickFont, color: '#000', padding: 8, autoSkip: false,
                  callback: (v, k) => p.yt[k]},
          grid: {drawOnChartArea: false, drawTicks: true, tickLength: 5, color: SPINE, lineWidth: 1.2},
          border: {display: false}
        }
      }
    },
    plugins: [deco]
  });
}

PANELS.forEach(makePanel);
</script>
</body></html>
